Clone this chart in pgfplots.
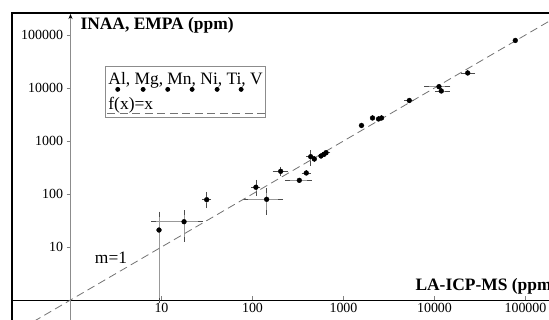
\documentclass[border=0pt]{standalone}
\usepackage{fontspec}
\setmainfont{Liberation Serif}
\usepackage{pgfplots}
\usepackage{pgfplotstable}
\pgfplotsset{compat=1.18}
\usetikzlibrary{arrows.meta}

\pgfplotstableread{
x y xm xp ym yp
9.39 20.9 0 0 19.9 21
17.7 30.0 9.43 8.8 16 14.4
31.4 78.0 1.6 1.6 17.9 20.7
109 134 5.6 5.6 31 32
143 79.4 60 61 33.7 35.6
204 268 27 24 23 23
327 181 86 91 0 0
390 249 20 20 0 0
436 506 20 20 122 88
478 457 0 0 0 0
566 521 0 0 0 0
611 561 30 30 0 0
643 602 30 30 0 0
1577 1961 0 0 0 0
2084 2716 0 0 0 0
2426 2603 0 0 0 0
2617 2716 0 0 0 0
5284 5808 340 340 0 0
11200 10590 2990 2870 0 0
11880 8775 1140 1950 0 0
23170 19190 2080 3130 0 0
77270 78800 0 0 0 0
}\datatable

\begin{document}
\begin{tikzpicture}
\begin{scope}
\clip (12bp,0bp) rectangle (549bp,307bp);
\begin{axis}[
  at={(0,0)}, anchor=south west,
  scale only axis, width=549bp, height=320bp,
  xmode=log, ymode=log,
  xmin=0.168, xmax=181300, ymin=0.4196, ymax=457000,
  axis lines*=middle,
  x axis line style={black, line width=0.6bp},
  y axis line style={black!45, line width=1.8bp, -{Stealth[length=5bp,width=4bp,black]}, shorten >=14bp},
  xtick={10,100,1000,10000,100000},
  ytick={10,100,1000,10000,100000},
  xticklabels={10,100,1000,10000,100000},
  yticklabels={10,100,1000,10000,100000},
  xminorticks=false, yminorticks=false,
  major tick length=4bp,
  xtick align=inside, ytick align=outside,
  tick style={black!50, line width=0.6bp},
  ticklabel style={font=\fontsize{14}{16}\selectfont},
  legend style={at={(axis description cs:0.1913,0.7938)}, anchor=north west,
    draw=black!45, line width=0.8bp, inner xsep=2bp, inner ysep=4bp,
    row sep=7bp, column sep=0pt,
    font=\fontsize{17.5}{20}\selectfont,
    nodes={inner sep=1bp}},
  legend cell align=left,
]
\addplot[only marks, mark=*, mark size=2.4bp, black, forget plot,
  error bars/.cd, x dir=both, x explicit, y dir=both, y explicit,
  error bar style={black!40, line width=0.8bp},
  error mark options={black!70, line width=0.6bp, mark size=2.5bp},
  ]
  table[x=x, y=y, x error minus=xm, x error plus=xp, y error minus=ym, y error plus=yp] {\datatable};
\addplot[black!55, line width=0.8bp, dash pattern=on 8bp off 4.5bp, forget plot]
  coordinates {(0.1,0.1) (1000000,1000000)};
\addlegendimage{black, legend image code/.code={\path[draw=none,fill=none] (0bp,-9bp) -- (0bp,9bp);
    \foreach \xx in {10.3,35.7,60.3,84.7,109.7,133.7} {\fill[overlay, black] (\xx bp,-10bp) circle (2bp);}}}
\addlegendentry{Al, Mg, Mn, Ni, Ti, V}
\addlegendimage{black!55, line width=0.8bp, dash pattern=on 8bp off 4.5bp,
  legend image code/.code={\path[draw=none,fill=none] (0bp,-9bp) -- (0bp,9bp);
    \draw[overlay] (0bp,-9.5bp) -- (158bp,-9.5bp);}}
\addlegendentry{f(x)=x}
\end{axis}
\node[font=\fontsize{17.5}{20}\selectfont] at (111bp,62bp) {m=1};
\node[anchor=base west, font=\bfseries\fontsize{17.5}{20}\selectfont] at (77bp,290.5bp) {INAA, EMPA (ppm)};
\node[anchor=base west, font=\bfseries\fontsize{17.5}{20}\selectfont] at (412bp,29.5bp) {LA-ICP-MS (ppm)};
\end{scope}
\draw[line width=2bp] (12bp,-2bp) -- (12bp,307bp) -- (552bp,307bp);
\pgfresetboundingbox
\useasboundingbox (0,0) rectangle (549bp,320bp);
\end{tikzpicture}
\end{document}
